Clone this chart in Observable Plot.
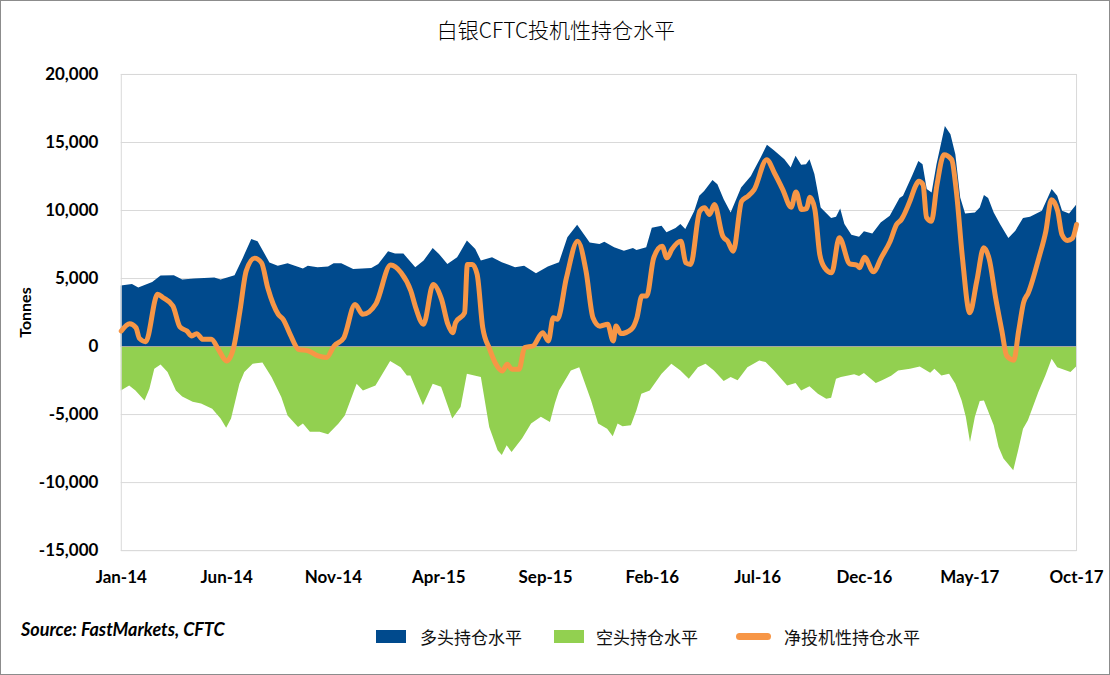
<!DOCTYPE html>
<html>
<head>
<meta charset="utf-8">
<script src="https://cdn.jsdelivr.net/npm/d3@7"></script>
<script src="https://cdn.jsdelivr.net/npm/@observablehq/plot@0.6"></script>
<style>
  html, body { margin: 0; padding: 0; background: #fff; }
  #frame { position: relative; width: 1110px; height: 675px; box-sizing: border-box; border: 1px solid #8c8c8c; overflow: hidden; background: #fff; }
  #title { position: absolute; left: 0; width: 1110px; top: 11px; text-align: center; font-family: "Noto Sans CJK SC", sans-serif; font-weight: 300; font-size: 21px; color: #000; line-height: 34px; }
  #chart { position: absolute; left: 0; top: 60px; }
  .leg { position: absolute; font-family: "Noto Sans CJK SC", sans-serif; font-size: 17px; color: #111; line-height: 20px; top: 626px; }
  .sw { position: absolute; }
  #source { position: absolute; left: 20px; top: 617px; font-family: Lato, sans-serif; font-weight: bold; font-style: italic; font-size: 18px; color: #000; }
</style>
</head>
<body>
<div id="frame">
  <div id="title">白银CFTC投机性持仓水平</div>
  <div id="chart"></div>
  <div id="source">Source: FastMarkets, CFTC</div>
  <div class="sw" style="left:375px;top:629px;width:30px;height:13px;background:#004A8D"></div>
  <div class="leg" style="left:419px">多头持仓水平</div>
  <div class="sw" style="left:553px;top:629px;width:30px;height:13px;background:#92D050"></div>
  <div class="leg" style="left:595px">空头持仓水平</div>
  <div class="sw" style="left:735px;top:632px;width:35px;height:7px;border-radius:4px;background:#F79646"></div>
  <div class="leg" style="left:783px">净投机性持仓水平</div>
</div>
<script>
// Series: [date, tonnes]
const longPositions = [
["2014-01-01",4450],["2014-01-17",4570],["2014-01-26",4300],["2014-02-15",4700],["2014-02-27",5180],["2014-03-18",5200],["2014-03-30",4900],["2014-04-16",4960],["2014-05-15",5030],["2014-05-24",4900],["2014-06-13",5200],["2014-06-25",6500],["2014-07-07",7870],["2014-07-16",7700],["2014-08-02",6150],["2014-08-14",5900],["2014-08-28",6080],["2014-09-19",5700],["2014-09-26",5900],["2014-10-10",5800],["2014-10-25",5850],["2014-11-02",6080],["2014-11-13",6080],["2014-11-30",5670],["2014-12-26",5740],
["2015-01-05",6030],["2015-01-19",6960],["2015-01-29",6800],["2015-02-10",6800],["2015-02-27",5800],["2015-03-11",6280],["2015-03-24",7200],["2015-04-02",6770],["2015-04-14",6040],["2015-04-28",6520],["2015-05-12",7750],["2015-05-24",7140],["2015-06-01",6280],["2015-06-17",6520],["2015-07-01",6160],["2015-07-20",5790],["2015-08-02",5910],["2015-08-19",5350],["2015-09-05",5840],["2015-09-21",6160],["2015-10-03",8000],["2015-10-17",8920],["2015-11-04",7620],["2015-11-18",7500],["2015-11-25",7670],["2015-12-09",7260],["2015-12-23",7010],
["2016-01-05",7200],["2016-01-10",7060],["2016-01-24",7260],["2016-02-01",8700],["2016-02-15",8850],["2016-02-22",8360],["2016-03-06",8680],["2016-03-13",8970],["2016-03-20",8600],["2016-04-02",9950],["2016-04-09",11050],["2016-04-16",11400],["2016-04-28",12200],["2016-05-05",11900],["2016-05-14",10800],["2016-05-24",9820],["2016-06-08",11660],["2016-06-22",12500],["2016-06-27",13000],["2016-07-06",13860],["2016-07-15",14790],["2016-07-25",14400],["2016-08-09",13740],["2016-08-18",13130],["2016-08-25",13980],["2016-09-02",13320],["2016-09-09",13370],["2016-09-14",13740],["2016-09-21",12640],["2016-09-30",10190],["2016-10-15",9410],["2016-10-22",9500],["2016-10-28",10120],["2016-11-03",8970],["2016-11-13",8190],["2016-11-24",8040],["2016-12-01",8430],["2016-12-13",8280],["2016-12-25",9090],
["2017-01-07",9580],["2017-01-21",10880],["2017-01-26",11050],["2017-02-08",12520],["2017-02-17",13600],["2017-02-23",13370],["2017-03-01",11540],["2017-03-08",11290],["2017-03-15",13370],["2017-03-27",16180],["2017-04-04",15570],["2017-04-11",14100],["2017-04-18",10920],["2017-04-25",9750],["2017-05-09",9820],["2017-05-16",10190],["2017-05-22",11100],["2017-05-28",10880],["2017-06-05",9820],["2017-06-14",8970],["2017-06-26",7950],["2017-07-06",8480],["2017-07-17",9410],["2017-07-27",9500],["2017-08-13",9950],["2017-08-27",11540],["2017-09-04",11050],["2017-09-11",9950],["2017-09-21",9750],["2017-10-01",10390]
];

const shortPositions = [
["2014-01-01",-3260],["2014-01-13",-2900],["2014-01-22",-3260],["2014-02-04",-4000],["2014-02-11",-3130],["2014-02-18",-1670],["2014-02-27",-1350],["2014-03-09",-1900],["2014-03-21",-3260],["2014-03-30",-3700],["2014-04-14",-4100],["2014-04-26",-4230],["2014-05-12",-4600],["2014-05-24",-5330],["2014-06-01",-6000],["2014-06-08",-5330],["2014-06-20",-2770],["2014-06-27",-1900],["2014-07-09",-1300],["2014-07-23",-1200],["2014-08-05",-2280],["2014-08-19",-3750],["2014-08-28",-5100],["2014-09-12",-5950],["2014-09-19",-5700],["2014-09-29",-6300],["2014-10-13",-6300],["2014-10-25",-6480],["2014-11-09",-5700],["2014-11-18",-5100],["2014-12-05",-2770],["2014-12-14",-3260],
["2015-01-01",-2900],["2015-01-22",-1100],["2015-02-06",-1550],["2015-02-15",-2160],["2015-02-20",-2160],["2015-03-10",-4360],["2015-03-24",-2770],["2015-04-05",-3000],["2015-04-21",-5330],["2015-05-03",-4480],["2015-05-12",-2030],["2015-06-01",-2280],["2015-06-13",-5950],["2015-06-25",-7660],["2015-07-01",-8000],["2015-07-08",-7300],["2015-07-15",-7780],["2015-07-30",-6800],["2015-08-12",-5700],["2015-08-26",-5200],["2015-09-08",-5580],["2015-09-15",-4230],["2015-09-21",-3260],["2015-10-08",-1790],["2015-10-20",-1550],["2015-11-06",-4000],["2015-11-16",-5700],["2015-11-29",-6070],["2015-12-07",-6630],["2015-12-14",-5700],["2015-12-21",-5900],
["2016-01-02",-5830],["2016-01-10",-4720],["2016-01-17",-3500],["2016-01-29",-3260],["2016-02-15",-2030],["2016-02-29",-1300],["2016-03-13",-1790],["2016-03-25",-2400],["2016-04-07",-1550],["2016-04-18",-1300],["2016-04-30",-1790],["2016-05-14",-2570],["2016-05-24",-2280],["2016-06-03",-2520],["2016-06-17",-1550],["2016-07-04",-1060],["2016-07-13",-1180],["2016-07-25",-1790],["2016-08-13",-2900],["2016-08-25",-2720],["2016-09-02",-3260],["2016-09-14",-2960],["2016-09-26",-3500],["2016-10-08",-3870],["2016-10-15",-3800],["2016-10-22",-2400],["2016-10-29",-2280],["2016-11-17",-2080],["2016-11-24",-2200],["2016-12-01",-1990],["2016-12-18",-2720],["2016-12-27",-2520],
["2017-01-09",-2180],["2017-01-19",-1790],["2017-02-05",-1670],["2017-02-19",-1500],["2017-03-06",-1960],["2017-03-12",-1670],["2017-03-22",-2160],["2017-04-02",-2030],["2017-04-11",-2770],["2017-04-20",-4000],["2017-04-26",-5200],["2017-05-02",-7050],["2017-05-09",-5200],["2017-05-16",-4040],["2017-05-22",-4000],["2017-06-05",-5830],["2017-06-12",-7420],["2017-06-19",-8270],["2017-07-03",-9130],["2017-07-10",-7660],["2017-07-17",-6070],["2017-07-24",-5460],["2017-08-08",-3380],["2017-08-18",-2160],["2017-08-27",-930],["2017-09-04",-1550],["2017-09-23",-1910],["2017-10-01",-1500]
];

const netPositions = [
["2014-01-01",1140],["2014-01-13",1680],["2014-01-22",1390],["2014-01-27",600],["2014-02-05",360],["2014-02-22",3840],["2014-03-02",3590],["2014-03-16",2980],["2014-03-26",1440],["2014-04-05",1140],["2014-04-12",780],["2014-04-19",950],["2014-04-28",530],["2014-05-10",530],["2014-05-20",-200],["2014-06-01",-1060],["2014-06-11",-80],["2014-06-20",2600],["2014-06-29",5550],["2014-07-11",6500],["2014-07-21",6150],["2014-07-30",4300],["2014-08-14",2370],["2014-08-21",2000],["2014-08-31",900],["2014-09-12",-200],["2014-09-26",-320],["2014-10-10",-690],["2014-10-22",-810],["2014-11-02",40],["2014-11-16",650],["2014-12-02",3100],["2014-12-13",2370],
["2015-01-01",3150],["2015-01-22",5990],["2015-02-06",5420],["2015-02-20",4080],["2015-02-27",2850],["2015-03-10",1640],["2015-03-24",4570],["2015-04-05",3470],["2015-04-14",1640],["2015-04-21",1020],["2015-04-25",1750],["2015-05-08",2490],["2015-05-12",6040],["2015-05-19",6040],["2015-05-26",5300],["2015-06-03",1390],["2015-06-13",-200],["2015-06-22",-1300],["2015-07-01",-1790],["2015-07-08",-1300],["2015-07-15",-1670],["2015-07-25",-1670],["2015-08-02",-80],["2015-08-14",40],["2015-08-28",1020],["2015-09-05",410],["2015-09-12",2120],["2015-09-18",2000],["2015-10-01",5060],["2015-10-17",7750],["2015-10-29",5550],["2015-11-08",2120],["2015-11-18",1500],["2015-11-29",1640],["2015-12-07",410],["2015-12-11",1510],["2015-12-18",950],
["2016-01-02",1270],["2016-01-10",2120],["2016-01-17",3710],["2016-01-24",3710],["2016-02-03",6520],["2016-02-15",7380],["2016-02-22",6520],["2016-02-29",7140],["2016-03-13",7750],["2016-03-20",6160],["2016-03-27",6040],["2016-04-09",9950],["2016-04-16",10200],["2016-04-23",9700],["2016-04-30",10440],["2016-05-12",8110],["2016-05-19",7750],["2016-05-27",7010],["2016-06-08",10680],["2016-06-17",11050],["2016-06-26",11540],["2016-07-14",13740],["2016-07-25",12760],["2016-08-06",11540],["2016-08-18",10240],["2016-08-25",11370],["2016-09-02",10070],["2016-09-09",10140],["2016-09-14",10980],["2016-09-21",10070],["2016-09-28",6770],["2016-10-05",5790],["2016-10-15",5420],["2016-10-26",7990],["2016-11-10",6080],["2016-11-20",5990],["2016-11-24",5790],["2016-12-01",6570],["2016-12-14",5500],["2016-12-25",6520],
["2017-01-07",7750],["2017-01-16",8970],["2017-01-23",9340],["2017-02-05",10800],["2017-02-12",11780],["2017-02-17",12150],["2017-02-23",11900],["2017-02-28",9500],["2017-03-07",9210],["2017-03-15",11900],["2017-03-25",14100],["2017-04-05",13740],["2017-04-12",11290],["2017-04-20",6770],["2017-05-01",2490],["2017-05-11",4810],["2017-05-21",7260],["2017-05-29",6400],["2017-06-07",3590],["2017-06-16",1140],["2017-06-23",-690],["2017-07-03",-1000],["2017-07-10",1140],["2017-07-17",3220],["2017-07-24",3960],["2017-08-08",6520],["2017-08-18",8480],["2017-08-26",10800],["2017-09-04",9950],["2017-09-10",8240],["2017-09-18",7800],["2017-09-25",7950],["2017-10-01",8970]
];

const xTickDates = ["2014-01-01","2014-06-01","2014-11-01","2015-04-01","2015-09-01","2016-02-01","2016-07-01","2016-12-01","2017-05-01","2017-10-01"];
const yTicks = [-15000,-10000,-5000,0,5000,10000,15000,20000];
const xDomain = ["2014-01-01","2017-10-01"];

const parse = d3.utcParse("%Y-%m-%d");
const toRows = (arr) => arr.map(([d, v]) => ({date: parse(d), value: v}));
const longRows = toRows(longPositions);
const shortRows = toRows(shortPositions);
const netRows = toRows(netPositions);
const yFormat = d3.formatLocale({decimal: ".", thousands: ",", grouping: [3], currency: ["", ""], minus: "-"}).format(",");

const chart = Plot.plot({
  width: 1110,
  height: 540,
  marginTop: 13,
  marginBottom: 50,
  marginLeft: 120,
  marginRight: 33,
  style: {fontFamily: "Lato, sans-serif", fontWeight: "bold", fontSize: "17px", color: "#000", background: "transparent"},
  x: {type: "utc", domain: xDomain.map(parse)},
  y: {domain: [-15000, 20000]},
  marks: [
    Plot.gridY(yTicks, {stroke: "#d9d9d9", strokeOpacity: 1, strokeWidth: 1}),
    Plot.areaY(longRows, {x: "date", y: "value", fill: "#004A8D"}),
    Plot.areaY(shortRows, {x: "date", y: "value", fill: "#92D050"}),
    Plot.ruleY([0], {stroke: "#a6a6a6", strokeWidth: 1}),
    Plot.frame({stroke: "#d9d9d9"}),
    Plot.lineY(netRows, {x: "date", y: "value", stroke: "#F79646", strokeWidth: 5, curve: "monotone-x", strokeLinejoin: "round"}),
    Plot.axisX(xTickDates.map(parse), {tickSize: 0, tickPadding: 20, tickFormat: d3.utcFormat("%b-%y"), label: null}),
    Plot.axisY(yTicks, {tickSize: 0, tickPadding: 23, tickFormat: yFormat, label: null}),
    Plot.axisY({tickSize: 0, ticks: [], label: "Tonnes", labelAnchor: "center", labelArrow: "none", labelOffset: 102, fontSize: 16})
  ]
});
document.getElementById("chart").appendChild(chart);
</script>
</body>
</html>
